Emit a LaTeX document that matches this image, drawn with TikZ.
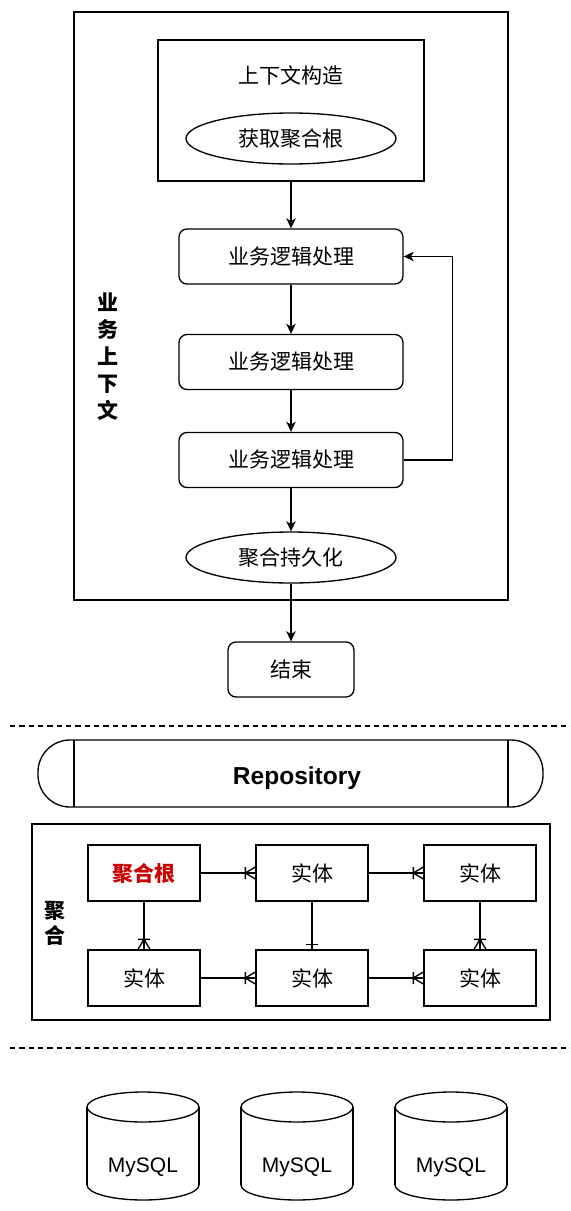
\documentclass[tikz,border=0pt]{standalone}
\usepackage{fontspec}
\setmainfont{Noto Sans CJK SC}
\newfontfamily\latfont{Liberation Sans}
\usetikzlibrary{arrows.meta,shapes.geometric,calc}
\definecolor{rootred}{HTML}{CC0000}
\newcommand\crowR[1]{\draw[shift={(#1)}] (-10,-6)--(-10,6) (0,-6)--(-10,0)--(0,6);}
\newcommand\crowD[1]{\draw[shift={(#1)}] (-6,-10)--(6,-10) (-6,0)--(0,-10)--(6,0);}
\newcommand\mysqlcyl[2]{%
  \fill[white] (#1,1185) ellipse [x radius=56, y radius=15];
  \draw (#1,1185) ellipse [x radius=56, y radius=15];
  \fill[white] (#1-56,1107) rectangle (#1+56,1185);
  \draw (#1-56,1107) -- (#1-56,1185) (#1+56,1107) -- (#1+56,1185);
  \draw[fill=white] (#1,1107) ellipse [x radius=56, y radius=15];
  \node[txt] (#2) at (#1,1167) {\latfont MySQL};
}
\begin{document}
\begin{tikzpicture}[x=0.75pt,y=-0.75pt,line width=1pt,
  txt/.style={font=\fontsize{15.75pt}{19pt}\selectfont, inner sep=0pt},
  box/.style={draw, txt, minimum width=168pt, minimum height=41.25pt, rounded corners=6pt},
  oval/.style={draw, ellipse, txt, minimum width=157.5pt, minimum height=38.25pt},
  ent/.style={draw, txt, minimum width=84pt, minimum height=42pt},
  arr/.style={-{Stealth[length=7.5pt,width=7pt,inset=2pt]}},
  dline/.style={dash pattern=on 4pt off 3pt}]
\useasboundingbox (0,0) rectangle (571,1211);
% outer context box
\node[draw, minimum width=325.5pt, minimum height=441pt, inner sep=0pt] (ctx) at (291,306) {};
\node[txt, font=\fontsize{15.75pt}{20.25pt}\selectfont\bfseries, align=center] (ctxlbl) at (108,357) {业\\务\\上\\下\\文};
% construction box
\node[draw, minimum width=199.5pt, minimum height=105.75pt, inner sep=0pt] (cons) at (291,110.5) {};
\node[txt] (consl) at (291,75) {上下文构造};
\node[oval] (get) at (291,138.5) {获取聚合根};
% logic boxes
\node[box] (b1) at (291,256.5) {业务逻辑处理};
\node[box] (b2) at (291,362) {业务逻辑处理};
\node[box] (b3) at (291,460) {业务逻辑处理};
\node[oval] (persist) at (291,557.5) {聚合持久化};
\node[box, minimum width=94.5pt] (end) at (291,669.5) {结束};
\draw[arr] (cons.south) -- (b1.north);
\draw[arr] (b1.south) -- (b2.north);
\draw[arr] (b2.south) -- (b3.north);
\draw[arr] (b3.south) -- (persist.north);
\draw[arr] (persist.south) -- (end.north);
\draw[arr] (b3.east) -- ++(49,0) |- (b1.east);
% dashed separators
\coordinate (d1a) at (10,726); \coordinate (d1b) at (570,726);
\draw[dline] (d1a) -- (d1b);
\coordinate (d2a) at (10,1048); \coordinate (d2b) at (570,1048);
\draw[dline] (d2a) -- (d2b);
% repository
\node[draw, minimum width=378.75pt, minimum height=50.25pt, rounded corners=24pt, inner sep=0pt] (repo) at (290.5,773.5) {};
\node[inner sep=0pt, font=\latfont\fontsize{18.4pt}{22pt}\selectfont\bfseries] (repolbl) at (297,778) {Repository};
\draw (74,740) -- (74,807) (508,740) -- (508,807);
% aggregate box
\node[draw, minimum width=388.5pt, minimum height=147pt, inner sep=0pt] (agg) at (291,922) {};
\node[txt, font=\fontsize{15.75pt}{18.75pt}\selectfont\bfseries, align=center] (agglbl) at (55,923) {聚\\合};
\node[ent, text=rootred, font=\fontsize{15.75pt}{19pt}\selectfont\bfseries] (e1) at (144,873) {聚合根};
\node[ent] (e2) at (312,873) {实体};
\node[ent] (e3) at (480,873) {实体};
\node[ent] (e4) at (144,978) {实体};
\node[ent] (e5) at (312,978) {实体};
\node[ent] (e6) at (480,978) {实体};
\draw (e1.east) -- (e2.west); \crowR{e2.west}
\draw (e2.east) -- (e3.west); \crowR{e3.west}
\draw (e4.east) -- (e5.west); \crowR{e5.west}
\draw (e5.east) -- (e6.west); \crowR{e6.west}
\draw (e1.south) -- (e4.north); \crowD{e4.north}
\draw (e3.south) -- (e6.north); \crowD{e6.north}
\draw (e2.south) -- (e5.north);
\draw[shift={(e5.north)}] (-6,-5) -- (6,-5);
% databases
\mysqlcyl{143}{db1}
\mysqlcyl{297}{db2}
\mysqlcyl{451}{db3}
\end{tikzpicture}
\end{document}
